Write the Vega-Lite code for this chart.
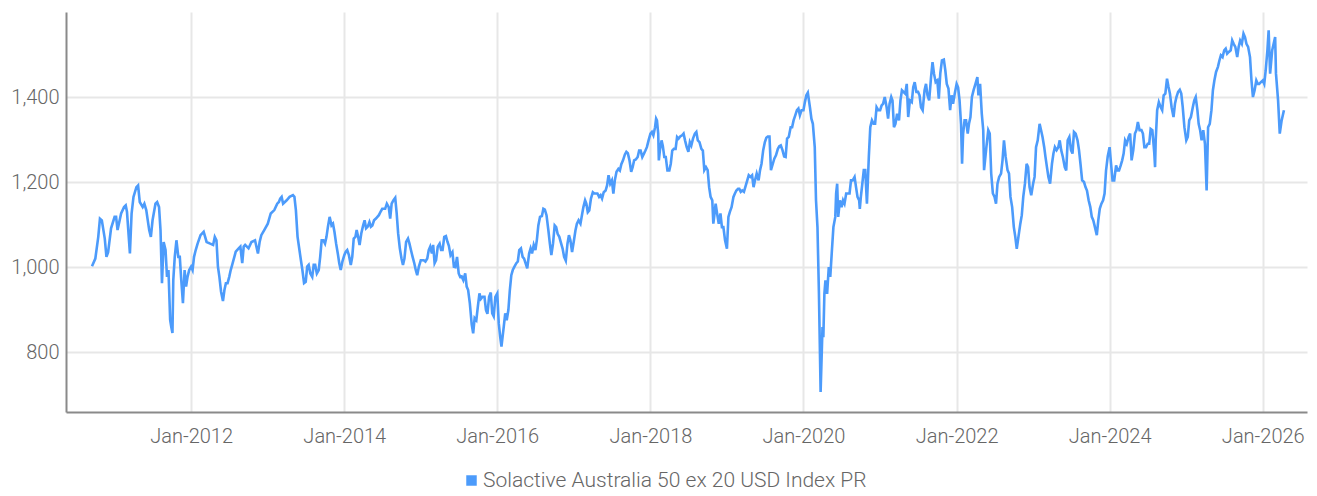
{
  "$schema": "https://vega.github.io/schema/vega-lite/v6.json",
  "width": 1241,
  "height": 400,
  "autosize": {"type": "none"},
  "padding": {"left": 66, "top": 12, "right": 10, "bottom": 84},
  "background": "white",
  "config": {
    "view": {"stroke": null},
    "font": "Roboto",
    "axis": {"labelFont": "Roboto", "labelFontWeight": 300, "labelFontSize": 20, "labelColor": "#666666", "domainColor": "#8a8a8a", "domainWidth": 2, "gridColor": "#e7e7e7", "gridWidth": 2, "ticks": false, "title": null}
  },
  "data": {"values": [
    {"d":"2010-09-15","v":1002},{"d":"2010-10-01","v":1020},{"d":"2010-10-15","v":1071},{"d":"2010-10-23","v":1114},{"d":"2010-11-01","v":1110},{"d":"2010-11-15","v":1067},{"d":"2010-11-23","v":1024},{"d":"2010-12-01","v":1035},{"d":"2010-12-15","v":1091},
    {"d":"2011-01-01","v":1118},{"d":"2011-01-08","v":1118},{"d":"2011-01-15","v":1087},{"d":"2011-02-01","v":1126},{"d":"2011-02-15","v":1141},{"d":"2011-02-23","v":1145},{"d":"2011-03-01","v":1130},{"d":"2011-03-15","v":1032},{"d":"2011-03-23","v":1126},{"d":"2011-04-01","v":1165},{"d":"2011-04-15","v":1188},{"d":"2011-04-23","v":1192},{"d":"2011-05-01","v":1153},{"d":"2011-05-15","v":1141},{"d":"2011-05-23","v":1149},{"d":"2011-06-01","v":1134},{"d":"2011-06-15","v":1087},{"d":"2011-06-23","v":1071},{"d":"2011-07-01","v":1110},{"d":"2011-07-15","v":1149},{"d":"2011-07-23","v":1153},{"d":"2011-08-01","v":1141},{"d":"2011-08-08","v":1087},{"d":"2011-08-15","v":962},{"d":"2011-08-23","v":1059},{"d":"2011-09-01","v":1040},{"d":"2011-09-08","v":977},{"d":"2011-09-15","v":993},{"d":"2011-09-23","v":876},{"d":"2011-09-28","v":860},{"d":"2011-10-04","v":845},{"d":"2011-10-08","v":970},{"d":"2011-10-15","v":1024},{"d":"2011-10-23","v":1063},{"d":"2011-11-01","v":1024},{"d":"2011-11-08","v":1024},{"d":"2011-11-15","v":970},{"d":"2011-11-23","v":915},{"d":"2011-12-01","v":993},{"d":"2011-12-08","v":954},{"d":"2011-12-15","v":977},{"d":"2011-12-23","v":993},
    {"d":"2012-01-01","v":1001},{"d":"2012-01-08","v":993},{"d":"2012-01-15","v":1024},{"d":"2012-01-23","v":1040},{"d":"2012-02-01","v":1055},{"d":"2012-02-15","v":1075},{"d":"2012-03-01","v":1083},{"d":"2012-03-15","v":1059},{"d":"2012-04-01","v":1055},{"d":"2012-04-15","v":1052},{"d":"2012-04-23","v":1071},{"d":"2012-05-01","v":1063},{"d":"2012-05-08","v":1001},{"d":"2012-05-15","v":977},{"d":"2012-05-23","v":942},{"d":"2012-06-01","v":920},{"d":"2012-06-08","v":946},{"d":"2012-06-15","v":962},{"d":"2012-06-23","v":962},{"d":"2012-07-01","v":977},{"d":"2012-07-08","v":993},{"d":"2012-07-15","v":1005},{"d":"2012-08-01","v":1036},{"d":"2012-08-15","v":1044},{"d":"2012-08-23","v":1048},{"d":"2012-09-01","v":1009},{"d":"2012-09-08","v":1048},{"d":"2012-09-15","v":1052},{"d":"2012-10-01","v":1044},{"d":"2012-10-15","v":1059},{"d":"2012-11-01","v":1063},{"d":"2012-11-15","v":1032},{"d":"2012-11-23","v":1059},{"d":"2012-12-01","v":1075},{"d":"2012-12-15","v":1087},
    {"d":"2013-01-01","v":1102},{"d":"2013-01-15","v":1126},{"d":"2013-02-01","v":1134},{"d":"2013-02-15","v":1149},{"d":"2013-02-23","v":1153},{"d":"2013-03-01","v":1161},{"d":"2013-03-08","v":1165},{"d":"2013-03-15","v":1149},{"d":"2013-04-01","v":1157},{"d":"2013-04-15","v":1165},{"d":"2013-05-01","v":1169},{"d":"2013-05-08","v":1165},{"d":"2013-05-15","v":1134},{"d":"2013-05-23","v":1071},{"d":"2013-06-01","v":1040},{"d":"2013-06-08","v":1016},{"d":"2013-06-15","v":993},{"d":"2013-06-23","v":962},{"d":"2013-07-01","v":965},{"d":"2013-07-08","v":1001},{"d":"2013-07-15","v":1005},{"d":"2013-07-23","v":985},{"d":"2013-08-01","v":977},{"d":"2013-08-08","v":1005},{"d":"2013-08-15","v":1005},{"d":"2013-08-23","v":985},{"d":"2013-09-01","v":993},{"d":"2013-09-08","v":1024},{"d":"2013-09-15","v":1063},{"d":"2013-09-23","v":1063},{"d":"2013-10-01","v":1055},{"d":"2013-10-08","v":1071},{"d":"2013-10-15","v":1095},{"d":"2013-10-23","v":1118},{"d":"2013-11-01","v":1098},{"d":"2013-11-08","v":1102},{"d":"2013-11-15","v":1083},{"d":"2013-11-23","v":1055},{"d":"2013-12-01","v":1032},{"d":"2013-12-08","v":1009},{"d":"2013-12-15","v":993},{"d":"2013-12-23","v":1013},
    {"d":"2014-01-01","v":1028},{"d":"2014-01-08","v":1036},{"d":"2014-01-15","v":1040},{"d":"2014-01-23","v":1028},{"d":"2014-02-01","v":1005},{"d":"2014-02-08","v":1024},{"d":"2014-02-15","v":1067},{"d":"2014-02-23","v":1071},{"d":"2014-03-01","v":1087},{"d":"2014-03-08","v":1071},{"d":"2014-03-15","v":1052},{"d":"2014-03-23","v":1079},{"d":"2014-04-01","v":1098},{"d":"2014-04-08","v":1110},{"d":"2014-04-15","v":1091},{"d":"2014-04-23","v":1095},{"d":"2014-05-01","v":1106},{"d":"2014-05-08","v":1095},{"d":"2014-05-15","v":1098},{"d":"2014-05-23","v":1110},{"d":"2014-06-01","v":1114},{"d":"2014-06-08","v":1118},{"d":"2014-06-15","v":1122},{"d":"2014-06-23","v":1130},{"d":"2014-07-01","v":1137},{"d":"2014-07-08","v":1137},{"d":"2014-07-15","v":1137},{"d":"2014-07-23","v":1149},{"d":"2014-08-01","v":1141},{"d":"2014-08-08","v":1114},{"d":"2014-08-15","v":1149},{"d":"2014-08-23","v":1157},{"d":"2014-09-01","v":1163},{"d":"2014-09-08","v":1126},{"d":"2014-09-15","v":1079},{"d":"2014-09-23","v":1044},{"d":"2014-10-01","v":1020},{"d":"2014-10-08","v":1005},{"d":"2014-10-15","v":1020},{"d":"2014-10-23","v":1059},{"d":"2014-11-01","v":1067},{"d":"2014-11-08","v":1055},{"d":"2014-11-15","v":1040},{"d":"2014-11-23","v":1024},{"d":"2014-12-01","v":1009},{"d":"2014-12-08","v":993},{"d":"2014-12-15","v":981},{"d":"2014-12-23","v":1001},
    {"d":"2015-01-01","v":1016},{"d":"2015-01-08","v":1016},{"d":"2015-01-15","v":1016},{"d":"2015-01-23","v":1013},{"d":"2015-02-01","v":1020},{"d":"2015-02-08","v":1040},{"d":"2015-02-15","v":1048},{"d":"2015-02-23","v":1032},{"d":"2015-03-01","v":1052},{"d":"2015-03-08","v":1009},{"d":"2015-03-15","v":1016},{"d":"2015-03-23","v":1048},{"d":"2015-04-01","v":1055},{"d":"2015-04-08","v":1040},{"d":"2015-04-15","v":1040},{"d":"2015-04-23","v":1071},{"d":"2015-05-01","v":1073},{"d":"2015-05-08","v":1060},{"d":"2015-05-15","v":1050},{"d":"2015-05-23","v":1028},{"d":"2015-06-01","v":1035},{"d":"2015-06-08","v":1001},{"d":"2015-06-15","v":1000},{"d":"2015-06-23","v":1024},{"d":"2015-07-01","v":985},{"d":"2015-07-08","v":977},{"d":"2015-07-15","v":978},{"d":"2015-07-23","v":969},{"d":"2015-08-01","v":985},{"d":"2015-08-08","v":954},{"d":"2015-08-15","v":946},{"d":"2015-08-23","v":915},{"d":"2015-09-01","v":865},{"d":"2015-09-08","v":844},{"d":"2015-09-15","v":880},{"d":"2015-09-23","v":875},{"d":"2015-10-01","v":910},{"d":"2015-10-08","v":938},{"d":"2015-10-15","v":925},{"d":"2015-10-23","v":930},{"d":"2015-11-01","v":930},{"d":"2015-11-08","v":899},{"d":"2015-11-15","v":890},{"d":"2015-11-23","v":930},{"d":"2015-12-01","v":940},{"d":"2015-12-08","v":891},{"d":"2015-12-15","v":884},{"d":"2015-12-23","v":930},
    {"d":"2016-01-01","v":938},{"d":"2016-01-08","v":868},{"d":"2016-01-15","v":836},{"d":"2016-01-21","v":813},{"d":"2016-02-01","v":860},{"d":"2016-02-08","v":891},{"d":"2016-02-15","v":875},{"d":"2016-02-23","v":899},{"d":"2016-03-01","v":946},{"d":"2016-03-08","v":981},{"d":"2016-03-15","v":993},{"d":"2016-03-23","v":1001},{"d":"2016-04-01","v":1009},{"d":"2016-04-08","v":1013},{"d":"2016-04-15","v":1040},{"d":"2016-04-23","v":1044},{"d":"2016-05-01","v":1024},{"d":"2016-05-08","v":1020},{"d":"2016-05-15","v":1009},{"d":"2016-05-23","v":997},{"d":"2016-06-01","v":1032},{"d":"2016-06-08","v":1044},{"d":"2016-06-15","v":1032},{"d":"2016-06-23","v":1052},{"d":"2016-07-01","v":1040},{"d":"2016-07-08","v":1064},{"d":"2016-07-15","v":1098},{"d":"2016-07-23","v":1118},{"d":"2016-08-01","v":1120},{"d":"2016-08-08","v":1137},{"d":"2016-08-15","v":1135},{"d":"2016-08-23","v":1122},{"d":"2016-09-01","v":1086},{"d":"2016-09-08","v":1055},{"d":"2016-09-15","v":1028},{"d":"2016-09-23","v":1055},{"d":"2016-10-01","v":1098},{"d":"2016-10-08","v":1094},{"d":"2016-10-15","v":1078},{"d":"2016-10-23","v":1071},{"d":"2016-11-01","v":1055},{"d":"2016-11-08","v":1043},{"d":"2016-11-15","v":1024},{"d":"2016-11-23","v":1015},{"d":"2016-12-01","v":1055},{"d":"2016-12-08","v":1075},{"d":"2016-12-15","v":1063},{"d":"2016-12-23","v":1035},
    {"d":"2017-01-01","v":1063},{"d":"2017-01-08","v":1086},{"d":"2017-01-15","v":1102},{"d":"2017-01-23","v":1110},{"d":"2017-02-01","v":1102},{"d":"2017-02-08","v":1122},{"d":"2017-02-15","v":1141},{"d":"2017-02-23","v":1157},{"d":"2017-03-01","v":1149},{"d":"2017-03-08","v":1129},{"d":"2017-03-15","v":1133},{"d":"2017-03-23","v":1161},{"d":"2017-04-01","v":1176},{"d":"2017-04-08","v":1173},{"d":"2017-04-15","v":1173},{"d":"2017-04-23","v":1173},{"d":"2017-05-01","v":1165},{"d":"2017-05-08","v":1169},{"d":"2017-05-15","v":1161},{"d":"2017-05-23","v":1176},{"d":"2017-06-01","v":1180},{"d":"2017-06-08","v":1192},{"d":"2017-06-15","v":1216},{"d":"2017-06-23","v":1196},{"d":"2017-07-01","v":1204},{"d":"2017-07-08","v":1173},{"d":"2017-07-15","v":1204},{"d":"2017-07-23","v":1224},{"d":"2017-08-01","v":1231},{"d":"2017-08-08","v":1227},{"d":"2017-08-15","v":1242},{"d":"2017-08-23","v":1251},{"d":"2017-09-01","v":1265},{"d":"2017-09-08","v":1271},{"d":"2017-09-15","v":1268},{"d":"2017-09-23","v":1251},{"d":"2017-10-01","v":1224},{"d":"2017-10-08","v":1235},{"d":"2017-10-15","v":1251},{"d":"2017-10-23","v":1253},{"d":"2017-11-01","v":1259},{"d":"2017-11-08","v":1274},{"d":"2017-11-15","v":1274},{"d":"2017-11-23","v":1259},{"d":"2017-12-01","v":1267},{"d":"2017-12-08","v":1274},{"d":"2017-12-15","v":1282},{"d":"2017-12-23","v":1298},
    {"d":"2018-01-01","v":1314},{"d":"2018-01-08","v":1318},{"d":"2018-01-15","v":1310},{"d":"2018-01-23","v":1329},{"d":"2018-01-28","v":1349},{"d":"2018-02-01","v":1345},{"d":"2018-02-07","v":1314},{"d":"2018-02-10","v":1251},{"d":"2018-02-15","v":1274},{"d":"2018-02-23","v":1298},{"d":"2018-03-01","v":1285},{"d":"2018-03-08","v":1259},{"d":"2018-03-15","v":1259},{"d":"2018-03-23","v":1227},{"d":"2018-04-01","v":1227},{"d":"2018-04-08","v":1243},{"d":"2018-04-15","v":1274},{"d":"2018-04-23","v":1278},{"d":"2018-05-01","v":1278},{"d":"2018-05-08","v":1306},{"d":"2018-05-15","v":1302},{"d":"2018-05-23","v":1307},{"d":"2018-06-01","v":1310},{"d":"2018-06-08","v":1314},{"d":"2018-06-15","v":1298},{"d":"2018-06-23","v":1282},{"d":"2018-07-01","v":1271},{"d":"2018-07-08","v":1294},{"d":"2018-07-15","v":1286},{"d":"2018-07-23","v":1302},{"d":"2018-08-01","v":1314},{"d":"2018-08-08","v":1318},{"d":"2018-08-15","v":1298},{"d":"2018-08-23","v":1294},{"d":"2018-09-01","v":1278},{"d":"2018-09-08","v":1274},{"d":"2018-09-15","v":1228},{"d":"2018-09-23","v":1235},{"d":"2018-10-01","v":1228},{"d":"2018-10-08","v":1188},{"d":"2018-10-15","v":1165},{"d":"2018-10-23","v":1157},{"d":"2018-10-28","v":1102},{"d":"2018-11-01","v":1118},{"d":"2018-11-08","v":1149},{"d":"2018-11-15","v":1126},{"d":"2018-11-23","v":1102},{"d":"2018-12-01","v":1126},{"d":"2018-12-08","v":1094},{"d":"2018-12-15","v":1094},{"d":"2018-12-23","v":1063},
    {"d":"2019-01-01","v":1043},{"d":"2019-01-08","v":1118},{"d":"2019-01-15","v":1130},{"d":"2019-01-23","v":1141},{"d":"2019-02-01","v":1165},{"d":"2019-02-08","v":1173},{"d":"2019-02-15","v":1180},{"d":"2019-02-23","v":1184},{"d":"2019-03-01","v":1184},{"d":"2019-03-08","v":1177},{"d":"2019-03-15","v":1180},{"d":"2019-03-23","v":1177},{"d":"2019-04-01","v":1192},{"d":"2019-04-08","v":1204},{"d":"2019-04-15","v":1216},{"d":"2019-04-23","v":1212},{"d":"2019-05-01","v":1216},{"d":"2019-05-08","v":1188},{"d":"2019-05-15","v":1204},{"d":"2019-05-23","v":1220},{"d":"2019-06-01","v":1204},{"d":"2019-06-08","v":1228},{"d":"2019-06-15","v":1243},{"d":"2019-06-23","v":1275},{"d":"2019-07-01","v":1294},{"d":"2019-07-08","v":1304},{"d":"2019-07-15","v":1307},{"d":"2019-07-23","v":1307},{"d":"2019-07-30","v":1228},{"d":"2019-08-08","v":1243},{"d":"2019-08-15","v":1255},{"d":"2019-08-23","v":1263},{"d":"2019-09-01","v":1278},{"d":"2019-09-08","v":1284},{"d":"2019-09-15","v":1286},{"d":"2019-09-23","v":1275},{"d":"2019-10-01","v":1260},{"d":"2019-10-08","v":1259},{"d":"2019-10-15","v":1302},{"d":"2019-10-23","v":1306},{"d":"2019-11-01","v":1329},{"d":"2019-11-08","v":1329},{"d":"2019-11-15","v":1345},{"d":"2019-11-23","v":1357},{"d":"2019-12-01","v":1369},{"d":"2019-12-08","v":1373},{"d":"2019-12-15","v":1357},{"d":"2019-12-23","v":1369},
    {"d":"2020-01-01","v":1369},{"d":"2020-01-08","v":1388},{"d":"2020-01-15","v":1404},{"d":"2020-01-22","v":1410},{"d":"2020-02-01","v":1376},{"d":"2020-02-08","v":1349},{"d":"2020-02-15","v":1337},{"d":"2020-02-24","v":1282},{"d":"2020-03-01","v":1157},{"d":"2020-03-08","v":1094},{"d":"2020-03-15","v":937},{"d":"2020-03-23","v":706},{"d":"2020-04-01","v":859},{"d":"2020-04-05","v":835},{"d":"2020-04-10","v":937},{"d":"2020-04-15","v":969},{"d":"2020-04-23","v":937},{"d":"2020-05-01","v":1000},{"d":"2020-05-08","v":977},{"d":"2020-05-15","v":1032},{"d":"2020-05-23","v":1094},{"d":"2020-06-01","v":1118},{"d":"2020-06-05","v":1173},{"d":"2020-06-10","v":1196},{"d":"2020-06-15","v":1118},{"d":"2020-06-23","v":1157},{"d":"2020-07-01","v":1141},{"d":"2020-07-08","v":1157},{"d":"2020-07-15","v":1149},{"d":"2020-07-23","v":1173},{"d":"2020-08-01","v":1173},{"d":"2020-08-08","v":1173},{"d":"2020-08-15","v":1204},{"d":"2020-08-23","v":1204},{"d":"2020-09-01","v":1212},{"d":"2020-09-08","v":1188},{"d":"2020-09-15","v":1165},{"d":"2020-09-23","v":1157},{"d":"2020-09-26","v":1137},{"d":"2020-10-01","v":1165},{"d":"2020-10-08","v":1196},{"d":"2020-10-15","v":1228},{"d":"2020-10-22","v":1228},{"d":"2020-10-30","v":1149},{"d":"2020-11-03","v":1196},{"d":"2020-11-08","v":1259},{"d":"2020-11-15","v":1329},{"d":"2020-11-23","v":1345},{"d":"2020-12-01","v":1337},{"d":"2020-12-08","v":1337},{"d":"2020-12-15","v":1376},{"d":"2020-12-23","v":1369},
    {"d":"2021-01-01","v":1369},{"d":"2021-01-08","v":1380},{"d":"2021-01-15","v":1384},{"d":"2021-01-23","v":1400},{"d":"2021-02-01","v":1376},{"d":"2021-02-08","v":1349},{"d":"2021-02-15","v":1384},{"d":"2021-02-23","v":1400},{"d":"2021-03-01","v":1392},{"d":"2021-03-08","v":1329},{"d":"2021-03-15","v":1337},{"d":"2021-03-23","v":1361},{"d":"2021-04-01","v":1345},{"d":"2021-04-08","v":1392},{"d":"2021-04-15","v":1416},{"d":"2021-05-01","v":1408},{"d":"2021-05-08","v":1431},{"d":"2021-05-15","v":1353},{"d":"2021-05-23","v":1392},{"d":"2021-06-01","v":1388},{"d":"2021-06-08","v":1423},{"d":"2021-06-15","v":1435},{"d":"2021-06-23","v":1412},{"d":"2021-07-01","v":1412},{"d":"2021-07-08","v":1404},{"d":"2021-07-15","v":1376},{"d":"2021-07-23","v":1369},{"d":"2021-08-01","v":1416},{"d":"2021-08-08","v":1431},{"d":"2021-08-15","v":1404},{"d":"2021-08-23","v":1392},{"d":"2021-09-01","v":1447},{"d":"2021-09-08","v":1482},{"d":"2021-09-15","v":1455},{"d":"2021-09-23","v":1435},{"d":"2021-10-01","v":1439},{"d":"2021-10-08","v":1396},{"d":"2021-10-15","v":1455},{"d":"2021-10-23","v":1486},{"d":"2021-11-01","v":1488},{"d":"2021-11-08","v":1463},{"d":"2021-11-15","v":1431},{"d":"2021-11-23","v":1420},{"d":"2021-12-01","v":1369},{"d":"2021-12-08","v":1404},{"d":"2021-12-15","v":1384},{"d":"2021-12-23","v":1408},
    {"d":"2022-01-01","v":1431},{"d":"2022-01-08","v":1423},{"d":"2022-01-15","v":1392},{"d":"2022-01-22","v":1337},{"d":"2022-01-27","v":1243},{"d":"2022-02-01","v":1314},{"d":"2022-02-08","v":1345},{"d":"2022-02-15","v":1345},{"d":"2022-02-23","v":1314},{"d":"2022-03-01","v":1337},{"d":"2022-03-08","v":1353},{"d":"2022-03-15","v":1400},{"d":"2022-03-23","v":1416},{"d":"2022-04-01","v":1431},{"d":"2022-04-10","v":1447},{"d":"2022-04-15","v":1404},{"d":"2022-04-23","v":1431},{"d":"2022-05-01","v":1361},{"d":"2022-05-08","v":1322},{"d":"2022-05-12","v":1228},{"d":"2022-05-23","v":1282},{"d":"2022-06-01","v":1322},{"d":"2022-06-08","v":1314},{"d":"2022-06-15","v":1220},{"d":"2022-06-23","v":1173},{"d":"2022-07-01","v":1165},{"d":"2022-07-08","v":1149},{"d":"2022-07-15","v":1196},{"d":"2022-07-23","v":1212},{"d":"2022-08-01","v":1220},{"d":"2022-08-08","v":1251},{"d":"2022-08-15","v":1298},{"d":"2022-08-23","v":1259},{"d":"2022-09-01","v":1228},{"d":"2022-09-08","v":1220},{"d":"2022-09-15","v":1165},{"d":"2022-09-23","v":1141},{"d":"2022-10-01","v":1094},{"d":"2022-10-08","v":1071},{"d":"2022-10-15","v":1043},{"d":"2022-10-23","v":1071},{"d":"2022-11-01","v":1102},{"d":"2022-11-08","v":1122},{"d":"2022-11-15","v":1165},{"d":"2022-11-23","v":1196},{"d":"2022-12-01","v":1243},{"d":"2022-12-08","v":1235},{"d":"2022-12-15","v":1188},{"d":"2022-12-23","v":1169},
    {"d":"2023-01-01","v":1196},{"d":"2023-01-08","v":1212},{"d":"2023-01-15","v":1282},{"d":"2023-01-23","v":1298},{"d":"2023-02-01","v":1337},{"d":"2023-02-08","v":1322},{"d":"2023-02-15","v":1306},{"d":"2023-02-23","v":1282},{"d":"2023-03-01","v":1259},{"d":"2023-03-08","v":1235},{"d":"2023-03-15","v":1212},{"d":"2023-03-23","v":1196},{"d":"2023-04-01","v":1243},{"d":"2023-04-08","v":1267},{"d":"2023-04-15","v":1282},{"d":"2023-04-23","v":1275},{"d":"2023-05-01","v":1282},{"d":"2023-05-08","v":1298},{"d":"2023-05-15","v":1275},{"d":"2023-05-23","v":1259},{"d":"2023-06-01","v":1235},{"d":"2023-06-08","v":1227},{"d":"2023-06-15","v":1298},{"d":"2023-06-23","v":1306},{"d":"2023-07-01","v":1275},{"d":"2023-07-08","v":1267},{"d":"2023-07-15","v":1318},{"d":"2023-07-23","v":1314},{"d":"2023-08-01","v":1298},{"d":"2023-08-08","v":1275},{"d":"2023-08-15","v":1243},{"d":"2023-08-23","v":1204},{"d":"2023-09-01","v":1200},{"d":"2023-09-08","v":1188},{"d":"2023-09-15","v":1180},{"d":"2023-09-23","v":1157},{"d":"2023-10-01","v":1141},{"d":"2023-10-08","v":1118},{"d":"2023-10-15","v":1110},{"d":"2023-10-23","v":1094},{"d":"2023-11-01","v":1075},{"d":"2023-11-08","v":1110},{"d":"2023-11-15","v":1137},{"d":"2023-11-23","v":1149},{"d":"2023-12-01","v":1157},{"d":"2023-12-08","v":1173},{"d":"2023-12-15","v":1227},{"d":"2023-12-23","v":1260},
    {"d":"2024-01-01","v":1282},{"d":"2024-01-08","v":1243},{"d":"2024-01-15","v":1204},{"d":"2024-01-23","v":1204},{"d":"2024-02-01","v":1239},{"d":"2024-02-08","v":1227},{"d":"2024-02-15","v":1227},{"d":"2024-02-23","v":1239},{"d":"2024-03-01","v":1251},{"d":"2024-03-08","v":1267},{"d":"2024-03-15","v":1298},{"d":"2024-03-23","v":1290},{"d":"2024-04-01","v":1306},{"d":"2024-04-08","v":1314},{"d":"2024-04-15","v":1251},{"d":"2024-04-23","v":1275},{"d":"2024-05-01","v":1314},{"d":"2024-05-08","v":1322},{"d":"2024-05-15","v":1341},{"d":"2024-05-23","v":1322},{"d":"2024-06-01","v":1322},{"d":"2024-06-08","v":1314},{"d":"2024-06-15","v":1282},{"d":"2024-06-23","v":1282},{"d":"2024-07-01","v":1290},{"d":"2024-07-08","v":1290},{"d":"2024-07-15","v":1325},{"d":"2024-07-23","v":1322},{"d":"2024-08-01","v":1270},{"d":"2024-08-05","v":1235},{"d":"2024-08-08","v":1298},{"d":"2024-08-15","v":1369},{"d":"2024-08-23","v":1388},{"d":"2024-09-01","v":1376},{"d":"2024-09-08","v":1369},{"d":"2024-09-15","v":1404},{"d":"2024-09-23","v":1408},{"d":"2024-10-01","v":1443},{"d":"2024-10-08","v":1424},{"d":"2024-10-15","v":1408},{"d":"2024-10-23","v":1376},{"d":"2024-11-01","v":1353},{"d":"2024-11-08","v":1384},{"d":"2024-11-15","v":1400},{"d":"2024-11-23","v":1412},{"d":"2024-12-01","v":1417},{"d":"2024-12-08","v":1408},{"d":"2024-12-15","v":1376},{"d":"2024-12-23","v":1329},
    {"d":"2025-01-01","v":1298},{"d":"2025-01-08","v":1306},{"d":"2025-01-15","v":1345},{"d":"2025-01-23","v":1353},{"d":"2025-02-01","v":1376},{"d":"2025-02-08","v":1392},{"d":"2025-02-15","v":1400},{"d":"2025-02-23","v":1369},{"d":"2025-03-01","v":1337},{"d":"2025-03-08","v":1322},{"d":"2025-03-15","v":1298},{"d":"2025-03-23","v":1322},{"d":"2025-03-31","v":1290},{"d":"2025-04-08","v":1180},{"d":"2025-04-15","v":1329},{"d":"2025-04-23","v":1337},{"d":"2025-05-01","v":1369},{"d":"2025-05-08","v":1416},{"d":"2025-05-15","v":1439},{"d":"2025-05-23","v":1459},{"d":"2025-06-01","v":1471},{"d":"2025-06-08","v":1486},{"d":"2025-06-15","v":1498},{"d":"2025-06-23","v":1494},{"d":"2025-07-01","v":1510},{"d":"2025-07-08","v":1514},{"d":"2025-07-15","v":1502},{"d":"2025-07-23","v":1506},{"d":"2025-08-01","v":1510},{"d":"2025-08-08","v":1533},{"d":"2025-08-15","v":1525},{"d":"2025-08-23","v":1518},{"d":"2025-09-01","v":1494},{"d":"2025-09-08","v":1518},{"d":"2025-09-15","v":1533},{"d":"2025-09-23","v":1525},{"d":"2025-10-01","v":1549},{"d":"2025-10-08","v":1541},{"d":"2025-10-15","v":1525},{"d":"2025-10-23","v":1518},{"d":"2025-11-01","v":1494},{"d":"2025-11-08","v":1439},{"d":"2025-11-15","v":1400},{"d":"2025-11-23","v":1416},{"d":"2025-12-01","v":1439},{"d":"2025-12-08","v":1431},{"d":"2025-12-15","v":1431},{"d":"2025-12-23","v":1435},
    {"d":"2026-01-01","v":1439},{"d":"2026-01-08","v":1431},{"d":"2026-01-15","v":1463},{"d":"2026-01-23","v":1510},{"d":"2026-01-29","v":1557},{"d":"2026-02-05","v":1455},{"d":"2026-02-15","v":1510},{"d":"2026-03-01","v":1541},{"d":"2026-03-05","v":1455},{"d":"2026-03-15","v":1392},{"d":"2026-03-23","v":1314},{"d":"2026-04-01","v":1345},{"d":"2026-04-12","v":1369}
  ]},
  "mark": {"type": "line", "strokeWidth": 2.6, "clip": true, "color": "#4c9bfb"},
  "encoding": {
    "x": {
      "field": "d", "type": "temporal",
      "scale": {"domain": [{"year": 2010, "month": 5, "date": 14}, {"year": 2026, "month": 7, "date": 31}]},
      "axis": {
        "format": "%b-%Y", "labelPadding": 14, "grid": true,
        "values": [{"year":2012,"month":1,"date":1},{"year":2014,"month":1,"date":1},{"year":2016,"month":1,"date":1},{"year":2018,"month":1,"date":1},{"year":2020,"month":1,"date":1},{"year":2022,"month":1,"date":1},{"year":2024,"month":1,"date":1},{"year":2026,"month":1,"date":1}]
      }
    },
    "y": {
      "field": "v", "type": "quantitative",
      "scale": {"domain": [659, 1600], "nice": false, "zero": false},
      "axis": {"values": [800, 1000, 1200, 1400], "format": ",d", "labelPadding": 7, "grid": true}
    },
    "color": {
      "datum": "Solactive Australia 50 ex 20 USD Index PR",
      "scale": {"range": ["#4c9bfb"]},
      "legend": {
        "title": null, "orient": "none", "legendX": 395, "legendY": 458,
        "symbolType": "square", "symbolSize": 110, "symbolStrokeWidth": 0, "labelFont": "Roboto", "labelFontWeight": 300,
        "labelFontSize": 21, "labelColor": "#666666", "labelOffset": 1, "labelLimit": 0,
        "encode": {"symbols": {"update": {"fill": {"value": "#4c9bfb"}, "strokeWidth": {"value": 0}}}}
      }
    }
  }
}
